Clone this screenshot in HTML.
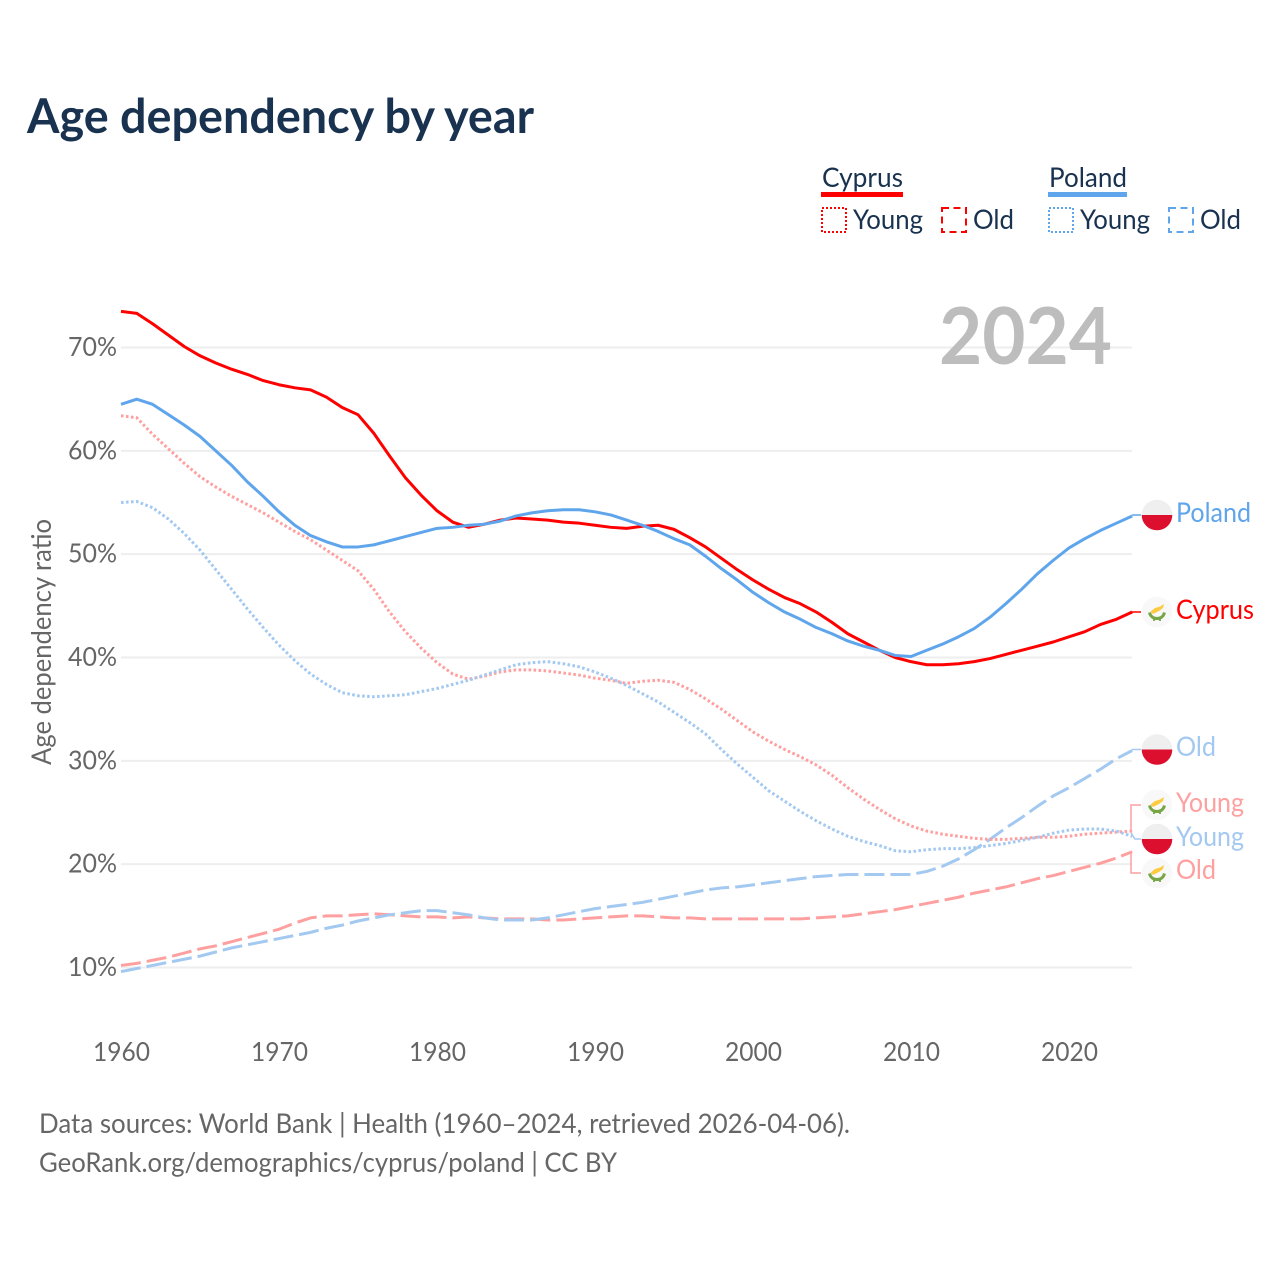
<!DOCTYPE html>
<html lang="en">
<head>
<meta charset="utf-8">
<title>Age dependency by year</title>
<style>
html,body{margin:0;padding:0;background:#fff;}
svg{display:block;font-family:"Lato","Carlito","Liberation Sans",sans-serif;}
</style>
</head>
<body>
<svg id="chart" width="1280" height="1280" viewBox="0 0 1280 1280" xmlns="http://www.w3.org/2000/svg">
  <rect width="1280" height="1280" fill="#ffffff"/>
  <text x="27" y="133" font-size="48" font-weight="700" fill="#18324f" textLength="507" lengthAdjust="spacingAndGlyphs">Age dependency by year</text>

  <g font-size="27" fill="#18324f">
    <g>
      <text x="822" y="187" textLength="81" lengthAdjust="spacingAndGlyphs">Cyprus</text>
      <rect x="821" y="192" width="82" height="5" fill="#ff0000"/>
    </g>
    <g>
      <rect x="822" y="208" width="24" height="24" fill="none" stroke="#ff0000" stroke-width="2" stroke-dasharray="2 2"/>
      <text x="853" y="229" textLength="70" lengthAdjust="spacingAndGlyphs">Young</text>
    </g>
    <g>
      <rect x="942" y="208" width="24" height="24" fill="none" stroke="#ff0000" stroke-width="2" stroke-dasharray="7 4.5"/>
      <text x="973" y="229" textLength="41" lengthAdjust="spacingAndGlyphs">Old</text>
    </g>
    <g>
      <text x="1049" y="187" textLength="78" lengthAdjust="spacingAndGlyphs">Poland</text>
      <rect x="1048" y="192" width="79" height="5" fill="#5fa5ec"/>
    </g>
    <g>
      <rect x="1049" y="208" width="24" height="24" fill="none" stroke="#5fa5ec" stroke-width="2" stroke-dasharray="2 2"/>
      <text x="1080" y="229" textLength="70" lengthAdjust="spacingAndGlyphs">Young</text>
    </g>
    <g>
      <rect x="1169" y="208" width="24" height="24" fill="none" stroke="#5fa5ec" stroke-width="2" stroke-dasharray="7 4.5"/>
      <text x="1200" y="229" textLength="41" lengthAdjust="spacingAndGlyphs">Old</text>
    </g>
  </g>

  <g id="grid"></g>
  <g id="yticks"></g>
  <g id="xticks"></g>
  <text transform="translate(51,642) rotate(-90)" text-anchor="middle" font-size="27" fill="#666666" textLength="246" lengthAdjust="spacingAndGlyphs">Age dependency ratio</text>
  <text x="939" y="364" font-size="79" font-weight="700" fill="#bdbdbd" textLength="173" lengthAdjust="spacingAndGlyphs">2024</text>

  <g id="lines"></g>

  <g fill="none" stroke-width="1.5">
    <path d="M1132 515H1141" stroke="#5fa5ec"/>
    <path d="M1132 612H1141" stroke="#ff0000"/>
    <path d="M1132 749.5H1141" stroke="#a3c9f1"/>
    <path d="M1131 830V805H1141" stroke="#ffa0a0"/>
    <path d="M1131 833L1135 839H1141" stroke="#a3c9f1"/>
    <path d="M1131 851V873H1141" stroke="#ffa0a0"/>
  </g>

  <defs>
    <clipPath id="flagClip"><circle cx="0" cy="0" r="15.3"/></clipPath>
    <g id="plFlag">
      <g clip-path="url(#flagClip)">
        <rect x="-16" y="-16" width="32" height="16" fill="#efefef"/>
        <rect x="-16" y="0" width="32" height="16" fill="#dc0f2f"/>
      </g>
    </g>
    <g id="cyFlag">
      <circle r="15.3" fill="#f8f8f8"/>
      <path d="M-6.5 -0.5L-2 -4L3 -5.5L7 -8L6 -4L2 -1L-1 0.5L-4 2Z" fill="#fbcb42"/>
      <path d="M-7.5 0.5C-6.5 4.5 -3.5 6.5 0 6.5C3.5 6.5 6.5 4.5 7.5 0.5" fill="none" stroke="#76a545" stroke-width="3"/>
      <path d="M-3 6.5V9M3 6.5V9" stroke="#76a545" stroke-width="1.8"/>
    </g>
  </defs>
  <use href="#plFlag" x="1157" y="515"/>
  <use href="#cyFlag" x="1157" y="612"/>
  <use href="#plFlag" x="1157" y="749.5"/>
  <use href="#cyFlag" x="1157" y="805"/>
  <use href="#plFlag" x="1157" y="839"/>
  <use href="#cyFlag" x="1157" y="873"/>

  <g font-size="27">
    <text x="1176" y="522" fill="#5fa5ec" textLength="75" lengthAdjust="spacingAndGlyphs">Poland</text>
    <text x="1176" y="619" fill="#ff0000" textLength="78" lengthAdjust="spacingAndGlyphs">Cyprus</text>
    <text x="1176" y="756" fill="#a3c9f1" textLength="40" lengthAdjust="spacingAndGlyphs">Old</text>
    <text x="1176" y="812" fill="#ffa0a0" textLength="68" lengthAdjust="spacingAndGlyphs">Young</text>
    <text x="1176" y="846" fill="#a3c9f1" textLength="68" lengthAdjust="spacingAndGlyphs">Young</text>
    <text x="1176" y="879" fill="#ffa0a0" textLength="40" lengthAdjust="spacingAndGlyphs">Old</text>
  </g>

  <g font-size="27" fill="#666666">
    <text x="39" y="1133" textLength="811" lengthAdjust="spacingAndGlyphs">Data sources: World Bank | Health (1960–2024, retrieved 2026-04-06).</text>
    <text x="39" y="1172" textLength="578" lengthAdjust="spacingAndGlyphs">GeoRank.org/demographics/cyprus/poland | CC BY</text>
  </g>
</svg>

<script>
const years = [1960,1961,1962,1963,1964,1965,1966,1967,1968,1969,1970,1971,1972,1973,1974,1975,1976,1977,1978,1979,1980,1981,1982,1983,1984,1985,1986,1987,1988,1989,1990,1991,1992,1993,1994,1995,1996,1997,1998,1999,2000,2001,2002,2003,2004,2005,2006,2007,2008,2009,2010,2011,2012,2013,2014,2015,2016,2017,2018,2019,2020,2021,2022,2023,2024];
const cyprusTotal = [73.5,73.3,72.3,71.2,70.1,69.2,68.5,67.9,67.4,66.8,66.4,66.1,65.9,65.2,64.2,63.5,61.7,59.5,57.4,55.7,54.2,53.1,52.6,52.9,53.3,53.5,53.4,53.3,53.1,53.0,52.8,52.6,52.5,52.7,52.8,52.4,51.6,50.7,49.6,48.5,47.5,46.6,45.8,45.2,44.4,43.4,42.3,41.5,40.7,40.0,39.6,39.3,39.3,39.4,39.6,39.9,40.3,40.7,41.1,41.5,42.0,42.5,43.2,43.7,44.4];
const polandTotal = [64.5,65.0,64.5,63.5,62.5,61.4,60.0,58.6,57.0,55.6,54.1,52.8,51.8,51.2,50.7,50.7,50.9,51.3,51.7,52.1,52.5,52.6,52.8,52.9,53.2,53.7,54.0,54.2,54.3,54.3,54.1,53.8,53.3,52.8,52.2,51.5,50.9,49.8,48.6,47.5,46.3,45.3,44.4,43.7,42.9,42.3,41.6,41.1,40.7,40.2,40.1,40.7,41.3,42.0,42.8,43.9,45.2,46.6,48.1,49.4,50.6,51.5,52.3,53.0,53.7];
const cyprusYoung = [63.4,63.2,61.6,60.2,58.8,57.5,56.5,55.6,54.8,54.0,53.1,52.2,51.4,50.4,49.4,48.4,46.6,44.4,42.5,40.9,39.5,38.4,37.9,38.2,38.6,38.8,38.8,38.7,38.5,38.3,38.0,37.8,37.5,37.7,37.8,37.6,36.9,36.0,35.0,33.9,32.8,31.9,31.1,30.4,29.6,28.6,27.4,26.3,25.3,24.4,23.7,23.2,22.9,22.7,22.5,22.4,22.4,22.5,22.6,22.6,22.7,22.9,23.0,23.1,23.2];
const polandYoung = [55.0,55.1,54.5,53.4,52.0,50.4,48.5,46.6,44.7,42.9,41.2,39.7,38.4,37.4,36.6,36.3,36.2,36.3,36.4,36.7,37.0,37.4,37.8,38.3,38.8,39.3,39.5,39.6,39.4,39.1,38.6,38.0,37.3,36.5,35.7,34.7,33.7,32.6,31.1,29.7,28.4,27.1,26.1,25.1,24.2,23.4,22.7,22.2,21.8,21.3,21.2,21.4,21.5,21.5,21.6,21.8,22.0,22.3,22.6,23.0,23.3,23.4,23.4,23.2,22.7];
const cyprusOld = [10.2,10.4,10.7,11.0,11.4,11.8,12.1,12.5,12.9,13.3,13.7,14.3,14.8,15.0,15.0,15.1,15.2,15.1,15.0,14.9,14.9,14.8,14.9,14.8,14.7,14.7,14.7,14.6,14.6,14.7,14.8,14.9,15.0,15.0,14.9,14.8,14.8,14.7,14.7,14.7,14.7,14.7,14.7,14.7,14.8,14.9,15.0,15.2,15.4,15.6,15.9,16.2,16.5,16.8,17.2,17.5,17.8,18.2,18.6,18.9,19.3,19.7,20.1,20.6,21.2];
const polandOld = [9.6,9.9,10.2,10.5,10.8,11.1,11.5,11.9,12.2,12.5,12.8,13.1,13.4,13.8,14.1,14.5,14.8,15.1,15.3,15.5,15.5,15.3,15.1,14.8,14.6,14.6,14.6,14.8,15.1,15.4,15.7,15.9,16.1,16.3,16.6,16.9,17.2,17.5,17.7,17.8,18.0,18.2,18.4,18.6,18.8,18.9,19.0,19.0,19.0,19.0,19.0,19.3,19.8,20.5,21.4,22.4,23.5,24.5,25.6,26.6,27.4,28.3,29.2,30.2,31.0];
const yTickValues = [10,20,30,40,50,60,70];
const yTickLabels = ["10%","20%","30%","40%","50%","60%","70%"];
const xTickValues = [1960,1970,1980,1990,2000,2010,2020];
const xTickLabels = ["1960","1970","1980","1990","2000","2010","2020"];

const NS = "http://www.w3.org/2000/svg";
function xScale(year){ return 121 + (year - 1960) * 15.8; }
function yScale(value){ return 967.5 - (value - 10) * 10.333; }

const gridGroup = document.getElementById("grid");
const yGroup = document.getElementById("yticks");
const xGroup = document.getElementById("xticks");
const lineGroup = document.getElementById("lines");

yTickValues.forEach(function(v, i){
  const g = document.createElementNS(NS, "line");
  
  
  g.setAttribute("x1", xScale(1960));
  g.setAttribute("x2", xScale(2024));
  g.setAttribute("y1", yScale(v));
  g.setAttribute("y2", yScale(v));
  g.setAttribute("stroke", "#eeeeee");
  g.setAttribute("stroke-width", "2");
  gridGroup.appendChild(g);

  const t = document.createElementNS(NS, "text");
  
  
  t.setAttribute("x", 68);
  t.setAttribute("y", yScale(v) + 8.5);
  t.setAttribute("font-size", "26");
  t.setAttribute("fill", "#666666");
  t.setAttribute("textLength", "49");
  t.setAttribute("lengthAdjust", "spacingAndGlyphs");
  t.textContent = yTickLabels[i];
  yGroup.appendChild(t);
});

xTickValues.forEach(function(v, i){
  const t = document.createElementNS(NS, "text");
  
  
  t.setAttribute("x", xScale(v) - 28);
  t.setAttribute("y", 1061);
  t.setAttribute("font-size", "26");
  t.setAttribute("fill", "#666666");
  t.setAttribute("textLength", "57");
  t.setAttribute("lengthAdjust", "spacingAndGlyphs");
  t.textContent = xTickLabels[i];
  xGroup.appendChild(t);
});

function drawLine(values, name, color, dash){
  const p = document.createElementNS(NS, "polyline");
  
  
  p.setAttribute("points", values.map(function(v, i){ return xScale(years[i]).toFixed(2) + "," + yScale(v).toFixed(2); }).join(" "));
  p.setAttribute("fill", "none");
  p.setAttribute("stroke", color);
  p.setAttribute("stroke-width", "3");
  p.setAttribute("stroke-linejoin", "round");
  if (dash) p.setAttribute("stroke-dasharray", dash);
  lineGroup.appendChild(p);
}

drawLine(cyprusOld, "line-cyprus-old", "#ffa0a0", "20 6");
drawLine(polandOld, "line-poland-old", "#a3c9f1", "20 6");
drawLine(cyprusYoung, "line-cyprus-young", "#ffa0a0", "2.6 2.4");
drawLine(polandYoung, "line-poland-young", "#a3c9f1", "2.6 2.4");
drawLine(cyprusTotal, "line-cyprus-total", "#ff0000", "");
drawLine(polandTotal, "line-poland-total", "#5fa5ec", "");
</script>
</body>
</html>
